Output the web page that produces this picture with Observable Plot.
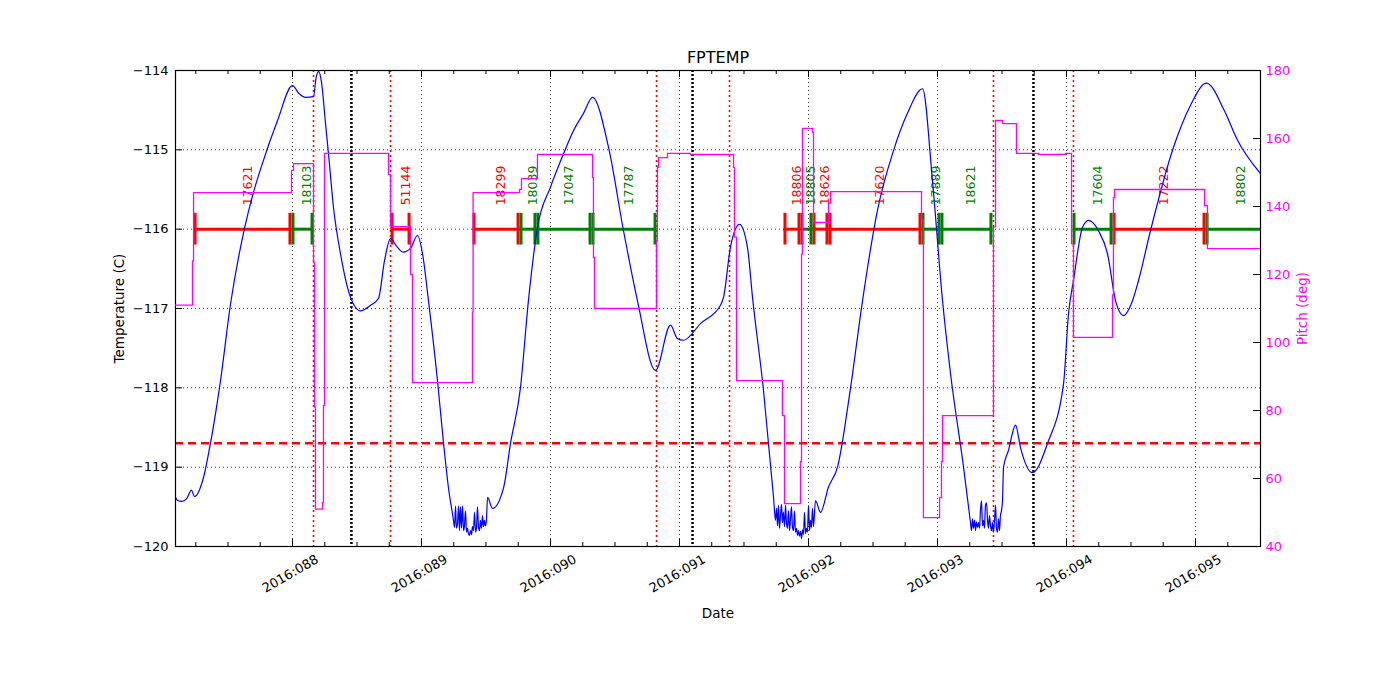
<!DOCTYPE html>
<html><head><meta charset="utf-8">
<script src="https://cdn.jsdelivr.net/npm/d3@7"></script>
<script src="https://cdn.jsdelivr.net/npm/@observablehq/plot@0.6"></script>
<style>
body{margin:0;background:#fff;}
#wrap{position:relative;width:1400px;height:700px;font-family:"DejaVu Sans",sans-serif;}
#wrap svg{position:absolute;left:0;top:0;}
</style></head><body><div id="wrap"></div>
<script>
// ---- data ----
const tempDay = [87.093,87.109,87.140,87.178,87.217,87.240,87.310,87.364,87.442,87.519,87.628,87.690,87.767,87.884,88.000,88.050,88.101,88.163,88.182,88.202,88.225,88.256,88.279,88.318,88.372,88.450,88.527,88.605,88.667,88.713,88.760,88.814,88.860,88.915,88.969,89.008,89.054,89.124,89.171,89.209,
89.248,89.256,89.264,89.271,89.279,89.287,89.295,89.302,89.310,89.318,89.326,89.333,89.341,89.349,89.357,89.364,89.372,89.380,89.388,89.395,89.403,89.411,89.419,89.426,89.434,89.442,89.450,89.457,89.465,89.473,89.481,89.488,89.496,89.504,89.512,
89.550,89.636,89.690,89.767,89.829,89.899,90.000,90.101,90.178,90.256,90.326,90.450,90.566,90.674,90.814,90.930,90.984,91.031,91.163,91.318,91.341,91.395,91.465,91.527,91.566,91.651,91.729,
91.744,91.752,91.760,91.767,91.775,91.783,91.791,91.798,91.806,91.814,91.822,91.829,91.837,91.845,91.853,91.860,91.868,91.876,91.884,91.891,91.899,91.907,91.915,91.922,91.930,91.938,91.946,91.953,91.961,91.969,91.977,91.984,91.992,92.000,92.008,92.016,92.023,92.031,92.039,
92.054,92.093,92.155,92.225,92.326,92.419,92.535,92.659,92.767,92.884,92.961,93.039,93.101,93.202,
93.256,93.264,93.271,93.279,93.287,93.295,93.302,93.310,93.318,93.326,93.333,93.341,93.349,93.357,93.364,93.372,93.380,93.388,93.395,93.403,93.411,93.419,93.426,93.434,93.442,93.450,93.457,93.465,93.473,93.481,93.488,93.496,93.504,
93.512,93.550,93.605,93.643,93.736,93.853,93.977,94.016,94.054,94.124,94.171,94.248,94.318,94.380,94.442,94.512,94.558,94.651,94.829,94.961,95.085,95.225,95.326,95.504];
const tempVal = [-119.38,-119.42,-119.43,-119.40,-119.29,-119.37,-119.13,-118.70,-117.91,-116.95,-115.99,-115.58,-115.17,-114.63,-114.19,-114.29,-114.34,-114.33,-114.10,-114.01,-114.15,-114.67,-115.05,-115.73,-116.31,-116.86,-117.03,-116.96,-116.87,-116.40,-116.12,-116.23,-116.29,-116.24,-116.08,-116.31,-116.90,-117.91,-118.70,-119.26,
-119.67,-119.76,-119.49,-119.77,-119.72,-119.49,-119.80,-119.50,-119.77,-119.49,-119.80,-119.74,-119.55,-119.82,-119.77,-119.84,-119.86,-119.80,-119.85,-119.75,-119.80,-119.57,-119.82,-119.77,-119.50,-119.76,-119.80,-119.67,-119.77,-119.61,-119.75,-119.67,-119.74,-119.65,-119.38,
-119.52,-119.26,-118.70,-118.00,-116.90,-115.98,-115.47,-115.05,-114.76,-114.54,-114.34,-114.97,-116.02,-116.90,-117.78,-117.21,-117.38,-117.40,-117.19,-116.96,-116.86,-116.23,-115.94,-116.23,-116.86,-118.03,-119.38,
-119.67,-119.52,-119.74,-119.48,-119.77,-119.61,-119.47,-119.70,-119.57,-119.75,-119.48,-119.70,-119.77,-119.55,-119.80,-119.67,-119.50,-119.76,-119.80,-119.55,-119.82,-119.77,-119.86,-119.80,-119.87,-119.81,-119.90,-119.79,-119.85,-119.57,-119.84,-119.77,-119.82,-119.48,-119.80,-119.67,-119.76,-119.52,-119.75,
-119.42,-119.57,-119.25,-119.00,-118.00,-116.90,-115.76,-115.01,-114.54,-114.23,-115.39,-116.90,-117.82,-119.00,
-119.70,-119.80,-119.65,-119.77,-119.67,-119.80,-119.69,-119.76,-119.70,-119.77,-119.55,-119.42,-119.74,-119.67,-119.77,-119.48,-119.45,-119.67,-119.77,-119.61,-119.74,-119.80,-119.70,-119.82,-119.67,-119.48,-119.77,-119.82,-119.65,-119.80,-119.61,-119.55,-119.42,
-119.00,-118.79,-118.47,-118.75,-119.07,-118.70,-117.95,-117.06,-116.65,-115.98,-115.89,-116.02,-116.31,-116.90,-117.09,-116.90,-116.65,-116.02,-114.97,-114.44,-114.16,-114.51,-114.88,-115.30];

const pitchDay = [87.093,87.225,87.233,87.992,88.008,88.163,88.170,88.178,88.233,88.240,88.248,88.744,88.760,88.915,88.930,89.395,89.400,89.760,89.775,89.899,90.326,90.333,90.341,90.822,90.829,90.837,90.907,91.085,91.419,91.426,91.442,91.798,91.814,91.938,91.946,91.953,92.031,92.039,92.155,92.171,92.876,92.891,93.016,93.031,93.039,93.434,93.450,93.504,93.612,93.783,93.992,94.039,94.054,94.357,94.364,94.372,95.070,95.093,95.504];
const pitchVal = [111,124,144.1,150.6,152.6,123.5,81,51,53,81.5,155.6,149.4,134.1,120,88.2,109,144.1,145,148.2,155.3,148.5,125,110,130,151.5,154.4,155.6,155.3,151.5,131,88.8,78.5,52.6,65,126,163,161.8,135.3,141,144.4,135.9,48.5,54.4,65,78.5,134,165.3,164.4,155.6,155.3,155.6,129,101.5,114,142.6,145,140.3,127.6,127.6];

const evStart = [87.233,87.992,88.760,89.395,89.760,89.891,90.318,91.806,91.938,92.031,92.155,92.876,93.023,94.047,94.357,95.078];
const evEnd   = [87.992,88.163,88.915,89.760,89.891,90.318,90.822,91.938,92.031,92.155,92.876,93.023,93.426,94.357,95.078,95.550];
const evLabel = ["17621","18103","51144","18299","18039","17047","17787","18806","18805","18626","17620","17889","18621","17604","17222","18802"];
const evType  = ["A","B","A","A","B","B","B","A","B","A","A","B","B","B","A","B"];
const eventLevel = -116;

const redLineDays = [88.163,88.760,90.822,91.388,93.434,94.054];
const blackLineDays = [88.457,91.101,93.744];
const limitTemp = -118.7;

const dayTicks = [88,89,90,91,92,93,94,95];
const dayTickLabels = ["2016:088","2016:089","2016:090","2016:091","2016:092","2016:093","2016:094","2016:095"];
const tempTicks = [-114,-115,-116,-117,-118,-119,-120];
const pitchTicks = [40,60,80,100,120,140,160,180];
const xDomain = [87.093, 95.504];

// ---- layout ----
const W = 1400, H = 700, mL = 175, mR = 140, mT = 70, mB = 154;
const fw = W - mL - mR, fh = H - mT - mB;
const minorDays = d3.range(87.25, 95.5, 0.25).filter(d => !dayTicks.includes(d));
const font = "DejaVu Sans";

const temps = tempDay.map((d, i) => ({d, t: tempVal[i]}));
const pitch = pitchDay.map((d, i) => ({d, p: pitchVal[i]}));
const events = evStart.map((s, i) => ({s, e: evEnd[i], m: (s + evEnd[i]) / 2, label: evLabel[i], type: evType[i]}));

const base = {width: W, height: H, marginLeft: mL, marginRight: mR, marginTop: mT, marginBottom: mB,
  x: {domain: xDomain, axis: null}, style: {fontFamily: font, background: "transparent", overflow: "visible"}};

const p1 = Plot.plot({
  ...base,
  y: {domain: [-120, -114], axis: null},
  color: {domain: ["A", "B"], range: ["#ff0000", "#008000"]},
  marks: [
    Plot.ruleX(dayTicks, {x: d => d, stroke: "black", strokeWidth: 0.8, strokeDasharray: "1,3"}),
    Plot.ruleY(tempTicks.slice(1, -1), {y: d => d, stroke: "black", strokeWidth: 0.8, strokeDasharray: "1,3"}),
    Plot.ruleX(blackLineDays, {x: d => d, stroke: "black", strokeWidth: 2.5, strokeDasharray: "2,2"}),
    Plot.ruleX(redLineDays, {x: d => d, stroke: "red", strokeWidth: 1.6, strokeDasharray: "2,3"}),
    Plot.ruleY([limitTemp], {y: d => d, stroke: "red", strokeWidth: 2.5, strokeDasharray: "8,5"}),
    Plot.link(events, {x1: "s", x2: "e", y1: () => eventLevel, y2: () => eventLevel, stroke: "type", strokeWidth: 3, clip: true}),
    Plot.ruleX(events, {x: "s", y1: () => eventLevel - 0.2, y2: () => eventLevel + 0.2, stroke: "type", strokeWidth: 3, dx: 1.5, clip: true}),
    Plot.ruleX(events, {x: "e", y1: () => eventLevel - 0.2, y2: () => eventLevel + 0.2, stroke: "type", strokeWidth: 3, dx: -1.5, clip: true}),
    Plot.text(events, {x: "m", y: () => eventLevel + 0.3, text: "label", fill: "type", rotate: -90, textAnchor: "start", dx: 5, fontSize: 12.5}),
    Plot.line(temps, {x: "d", y: "t", stroke: "blue", strokeWidth: 1.2, curve: "monotone-x", clip: true}),
    Plot.frame({stroke: "black", strokeWidth: 1.2}),
    // ticks
    Plot.ruleX(dayTicks, {x: d => d, stroke: "black", insetTop: fh - 7}),
    Plot.ruleX(dayTicks, {x: d => d, stroke: "black", insetBottom: fh - 7}),
    Plot.ruleX(minorDays, {x: d => d, stroke: "black", insetTop: fh - 4}),
    Plot.ruleX(minorDays, {x: d => d, stroke: "black", insetBottom: fh - 4}),
    Plot.ruleY(tempTicks, {y: d => d, stroke: "black", insetRight: fw - 7}),
    // tick labels
    Plot.text(tempTicks, {y: d => d, text: d => String(d).replace("-", "\u2212"), frameAnchor: "left", dx: -7, textAnchor: "end", fontSize: 13, fill: "black"}),
    Plot.text(dayTicks, {x: d => d, text: (d, i) => dayTickLabels[i], frameAnchor: "bottom", dy: 31, rotate: -30, textAnchor: "middle", fontSize: 13, fill: "black"}),
    Plot.text(["Date"], {frameAnchor: "bottom", dy: 71, lineAnchor: "bottom", fontSize: 13.5, fill: "black"}),
    Plot.text(["Temperature (C)"], {frameAnchor: "left", dx: -56, rotate: -90, textAnchor: "middle", fontSize: 13.5, fill: "black"}),
    Plot.text(["FPTEMP"], {frameAnchor: "top", dy: -19, textAnchor: "middle", fontSize: 16, fill: "black"})
  ]
});

const p2 = Plot.plot({
  ...base,
  y: {domain: [40, 180], axis: null},
  marks: [
    Plot.line(pitch, {x: "d", y: "p", stroke: "#ff00ff", strokeWidth: 1.3, curve: "step-after", clip: true}),
    Plot.ruleY(pitchTicks, {y: d => d, stroke: "black", insetLeft: fw - 7}),
    Plot.text(pitchTicks, {y: d => d, text: d => String(d), frameAnchor: "right", dx: 5, textAnchor: "start", fontSize: 13, fill: "#ff00ff"}),
    Plot.text(["Pitch (deg)"], {frameAnchor: "right", dx: 42, rotate: -90, textAnchor: "middle", fontSize: 13.5, fill: "#ff00ff"})
  ]
});

const wrap = document.getElementById("wrap");
wrap.appendChild(p1);
wrap.appendChild(p2);
</script>
</body></html>
